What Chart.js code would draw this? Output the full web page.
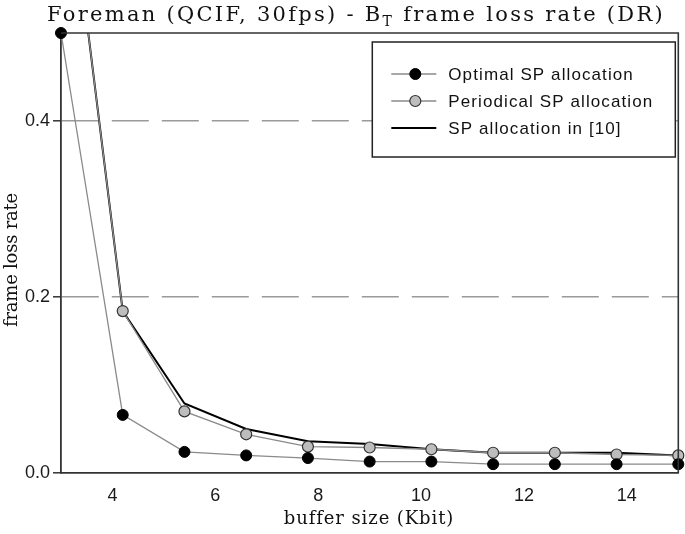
<!DOCTYPE html>
<html><head><meta charset="utf-8">
<script src="https://cdn.jsdelivr.net/npm/chart.js@4/dist/chart.umd.min.js"></script>
<style>html,body{margin:0;padding:0;background:#fff;}#wrap{width:685px;height:534px;}</style>
</head><body><div id="wrap"><canvas id="c" width="685" height="534"></canvas></div>
<script>
// ---- data ----
const bufferSizes = [3, 4.2, 5.4, 6.6, 7.8, 9.0, 10.2, 11.4, 12.6, 13.8, 15];
const optimalSP   = [0.5, 0.066, 0.024, 0.020, 0.017, 0.013, 0.013, 0.010, 0.010, 0.010, 0.010];
const periodicalSP= [0.75, 0.184, 0.070, 0.044, 0.030, 0.029, 0.027, 0.023, 0.023, 0.021, 0.020];
const spIn10      = [0.75, 0.184, 0.079, 0.050, 0.036, 0.033, 0.027, 0.023, 0.023, 0.023, 0.020];
const seriesLabels = ['Optimal SP allocation', 'Periodical SP allocation', 'SP allocation in [10]'];
const xTickValues = [4, 6, 8, 10, 12, 14];
const yTickValues = [0, 0.2, 0.4];
const titleParts = ['Foreman (QCIF, 30fps) - B', 'T', ' frame loss rate (DR)'];
const xAxisTitle = 'buffer size (Kbit)';
const yAxisTitle = 'frame loss rate';

const pts = arr => bufferSizes.map((x, i) => ({x: x, y: arr[i]}));

function fitText(ctx, text, font, target) {
  ctx.font = font; ctx.letterSpacing = '0px';
  const w = ctx.measureText(text).width;
  ctx.letterSpacing = ((target - w) / text.length) + 'px';
}

const decorPlugin = {
  id: 'decor',
  afterDraw(chart) {
    const ctx = chart.ctx, ca = chart.chartArea;
    ctx.save();
    // frame (top & right)
    ctx.strokeStyle = '#333'; ctx.lineWidth = 1.6;
    ctx.beginPath();
    ctx.moveTo(ca.left, ca.top); ctx.lineTo(ca.right, ca.top); ctx.lineTo(ca.right, ca.bottom);
    ctx.stroke();

    // title with subscript
    ctx.fillStyle = '#111';
    ctx.textBaseline = 'alphabetic';
    const big = '21px "DejaVu Serif"', small = '14px "DejaVu Serif"';
    ctx.letterSpacing = '0px';
    ctx.font = big;
    const w0 = ctx.measureText(titleParts[0]).width;
    const w2 = ctx.measureText(titleParts[2]).width;
    ctx.font = small;
    const w1 = ctx.measureText(titleParts[1]).width;
    const nChars = titleParts.join('').length;
    const ls = (618 - (w0 + w1 + w2)) / nChars;
    ctx.letterSpacing = ls + 'px';
    let x = 47, y = 21;
    ctx.font = big; ctx.fillText(titleParts[0], x, y);
    x += ctx.measureText(titleParts[0]).width;
    ctx.font = small; ctx.fillText(titleParts[1], x, y + 5);
    x += ctx.measureText(titleParts[1]).width;
    ctx.font = big; ctx.fillText(titleParts[2], x, y);

    // axis titles
    ctx.textAlign = 'center'; ctx.textBaseline = 'middle';
    fitText(ctx, xAxisTitle, '18px "DejaVu Serif"', 170);
    ctx.fillText(xAxisTitle, 369, 519);
    ctx.save();
    ctx.translate(12, 260); ctx.rotate(-Math.PI / 2);
    fitText(ctx, yAxisTitle, '18px "DejaVu Serif"', 134);
    ctx.fillText(yAxisTitle, 0, 0);
    ctx.restore();

    // legend
    const lx = ca.right - 306, ly = ca.top + 9, lw = 303, lh = 115;
    ctx.fillStyle = '#fff'; ctx.fillRect(lx, ly, lw, lh);
    ctx.strokeStyle = '#222'; ctx.lineWidth = 1.5; ctx.strokeRect(lx, ly, lw, lh);
    const rows = [32, 59, 86];
    ctx.textAlign = 'left'; ctx.textBaseline = 'middle';
    ctx.font = '17px "Liberation Sans"';
    ctx.letterSpacing = '1.1px';
    chart.data.datasets.forEach((ds, i) => {
      const ry = ly + rows[i];
      ctx.strokeStyle = ds.borderColor; ctx.lineWidth = ds.borderWidth;
      ctx.beginPath(); ctx.moveTo(lx + 19, ry); ctx.lineTo(lx + 64, ry); ctx.stroke();
      if (ds.pointRadius > 0) {
        ctx.beginPath(); ctx.arc(lx + 43, ry, ds.pointRadius, 0, Math.PI * 2);
        ctx.fillStyle = ds.pointBackgroundColor; ctx.fill();
        ctx.strokeStyle = ds.pointBorderColor; ctx.lineWidth = ds.pointBorderWidth; ctx.stroke();
      }
      ctx.fillStyle = '#111';
      ctx.fillText(ds.label, lx + 76, ry + 1);
    });
    ctx.restore();
  }
};

new Chart(document.getElementById('c'), {
  type: 'line',
  data: {
    datasets: [
      { label: seriesLabels[0], data: pts(optimalSP), borderColor: '#8a8a8a', borderWidth: 1.3,
        pointRadius: 5.5, pointBackgroundColor: '#000', pointBorderColor: '#000', pointBorderWidth: 1,
        clip: false, tension: 0 },
      { label: seriesLabels[1], data: pts(periodicalSP), borderColor: '#8a8a8a', borderWidth: 1.3,
        pointRadius: 5.5, pointBackgroundColor: '#bdbdbd', pointBorderColor: '#333', pointBorderWidth: 1.2,
        clip: {left: 8, right: 8, top: 0, bottom: 8}, tension: 0 },
      { label: seriesLabels[2], data: pts(spIn10), borderColor: '#000', borderWidth: 2,
        pointRadius: 0, pointBackgroundColor: '#000', pointBorderColor: '#000', pointBorderWidth: 0,
        clip: {left: 8, right: 8, top: 0, bottom: 8}, tension: 0 }
    ]
  },
  options: {
    responsive: false, animation: false, devicePixelRatio: 1,
    layout: { padding: { top: 33, right: 6, left: 0, bottom: 0 } },
    plugins: { legend: { display: false }, title: { display: false }, tooltip: { enabled: false } },
    scales: {
      x: {
        type: 'linear', min: 3, max: 15,
        afterBuildTicks: s => { s.ticks = xTickValues.map(v => ({value: v})); },
        afterFit: s => { s.height = 61; },
        grid: { display: false, drawTicks: false },
        border: { display: true, color: '#333', width: 1.8 },
        ticks: { padding: 12, color: '#1a1a1a', font: { family: '"Liberation Sans"', size: 18 },
                 maxRotation: 0, callback: v => String(v) }
      },
      y: {
        type: 'linear', min: 0, max: 0.5,
        afterBuildTicks: s => { s.ticks = yTickValues.map(v => ({value: v})); },
        afterFit: s => { s.width = 61; },
        grid: {
          color: c => (c.tick && c.tick.value === 0) ? 'rgba(0,0,0,0)' : '#9a9a9a',
          lineWidth: 1.6, drawTicks: true, tickLength: 8, tickColor: '#333', tickWidth: 1.5
        },
        border: { display: true, color: '#333', width: 1.8, dash: [37, 13] },
        ticks: { padding: 3, color: '#1a1a1a', font: { family: '"Liberation Sans"', size: 18 },
                 callback: v => Number(v).toFixed(1) }
      }
    }
  },
  plugins: [decorPlugin]
});
</script></body></html>
